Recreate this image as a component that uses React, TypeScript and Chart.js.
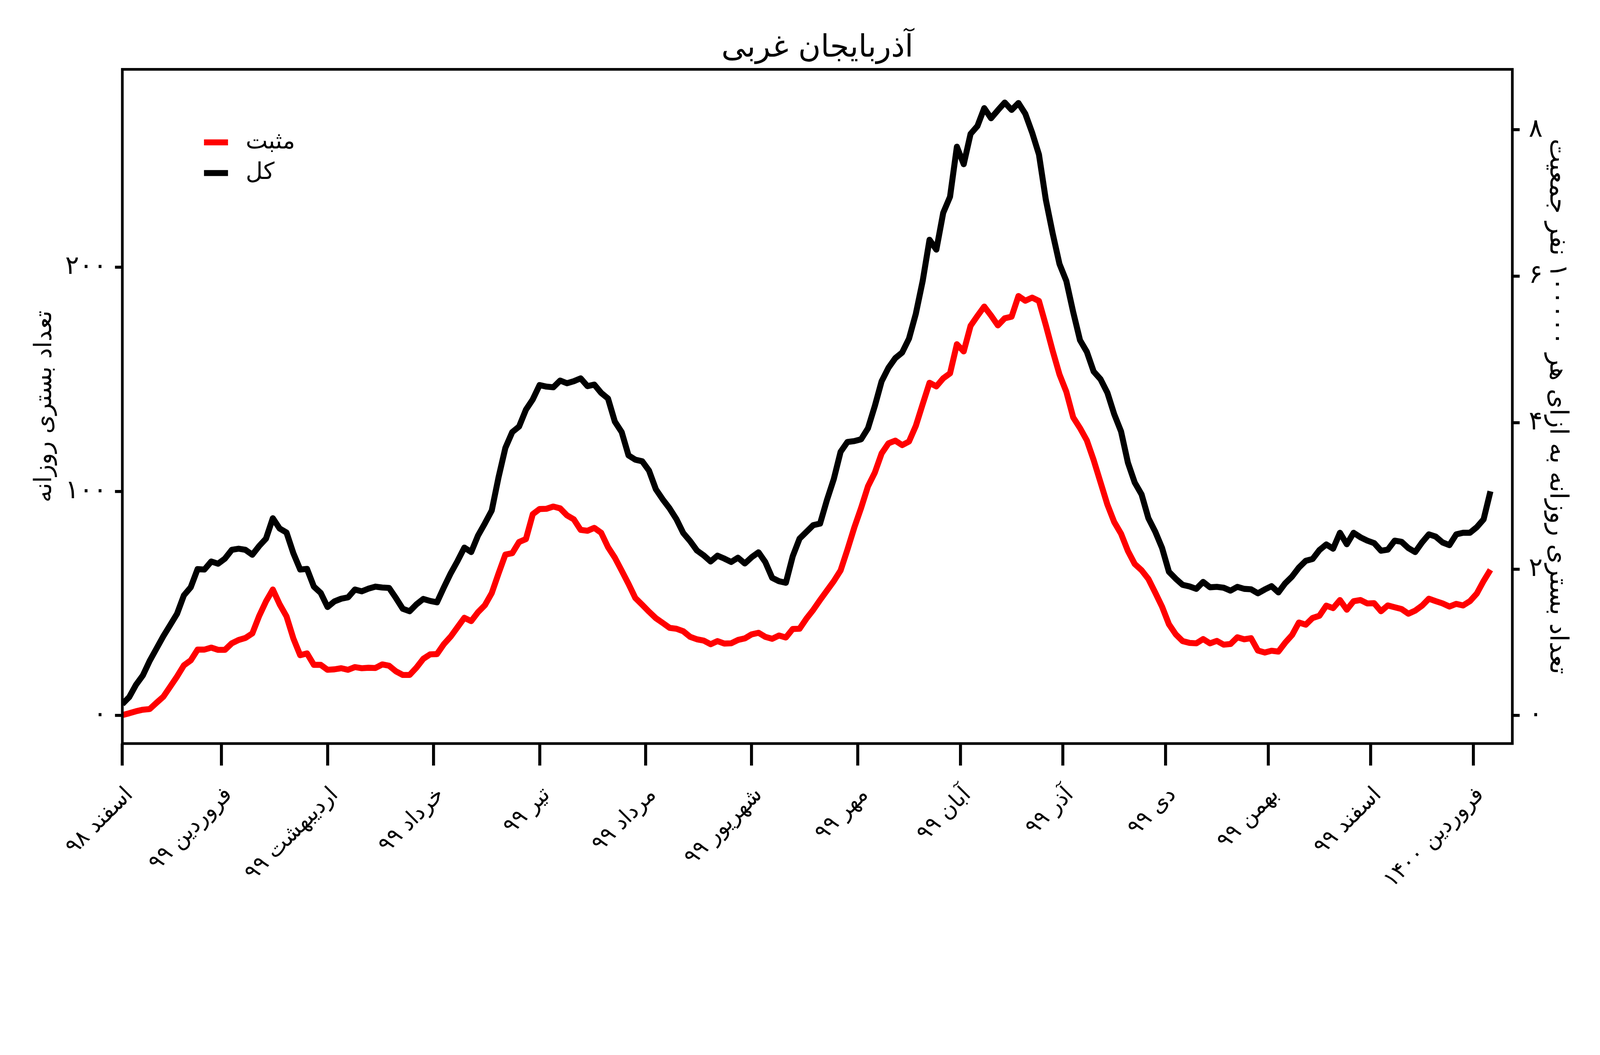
import React, { useEffect, useRef } from 'react';
import { Chart, registerables } from 'chart.js';

Chart.register(...registerables);

const FONT = '"DejaVu Sans"';
const TITLE = 'آذربایجان غربی';
const Y_TITLE = 'تعداد بستری روزانه';
const Y2_TITLE = 'تعداد بستری روزانه به ازای هر ۱۰۰۰۰۰ نفر جمعیت';
const POSITIVE_LABEL = 'مثبت';
const TOTAL_LABEL = 'کل';
const POPULATION = 3265219;

// days since 1 Esfand 1398, one value every DAY_STEP days
const DAY_STEP = 2;
const X_MIN = 0;
const X_MAX = 406.4;
const Y_MIN = -12.5;
const Y_MAX = 288.2;

const X_TICK_DAYS = [0, 29, 60, 91, 122, 153, 184, 215, 245, 275, 305, 335, 365, 395];
const X_TICK_LABELS = [
  'اسفند ۹۸', 'فروردین ۹۹', 'اردیبهشت ۹۹', 'خرداد ۹۹', 'تیر ۹۹', 'مرداد ۹۹', 'شهریور ۹۹',
  'مهر ۹۹', 'آبان ۹۹', 'آذر ۹۹', 'دی ۹۹', 'بهمن ۹۹', 'اسفند ۹۹', 'فروردین ۱۴۰۰',
];
const Y_TICKS = [0, 100, 200];
const Y2_TICKS = [0, 2, 4, 6, 8];

const TOTAL = [
  5.1, 8.2, 13.7, 17.9, 24.4, 29.9, 35.4, 40.4, 45.4, 53.6,
  57.2, 65.3, 65.1, 68.7, 67.7, 70, 73.9, 74.4, 73.9, 71.7,
  75.6, 78.9, 88, 83.4, 81.6, 72.4, 65.1, 65.4, 57.5, 54.7,
  48.4, 50.9, 52.1, 52.7, 56.2, 55.4, 56.6, 57.5, 57.1, 56.9,
  52.4, 47.6, 46.5, 49.6, 52, 51.1, 50.5, 57.1, 63.4, 68.9,
  74.9, 72.9, 80.3, 85.7, 91.4, 106.3, 119.4, 126.4, 128.9, 136.4,
  141, 147.4, 146.7, 146.4, 149.4, 148.2, 149.1, 150.4, 146.9, 147.6,
  143.9, 141.4, 131.1, 126.4, 116, 114.1, 113.4, 109.2, 100.9, 96.4,
  92.4, 87.6, 81.4, 77.8, 73.6, 71.4, 68.7, 71.3, 70, 68.5,
  70.4, 67.8, 70.6, 72.8, 68.4, 61.4, 59.9, 59.2, 71, 78.9,
  81.9, 84.9, 85.6, 96.1, 105.4, 117.6, 122, 122.4, 123.2, 128.1,
  138, 149.1, 155.1, 159.4, 161.9, 168.1, 179.2, 193.8, 212.2, 207.8,
  224.2, 231.4, 253.7, 245.9, 259.4, 262.9, 270.9, 266.4, 270, 273.4,
  270.1, 273.2, 268.4, 260, 250.2, 230.1, 215.1, 201.4, 193.8, 180,
  167.4, 162.2, 153.4, 150, 144, 134.4, 126.7, 112.8, 103.9, 98.6,
  88, 82, 74.7, 64.1, 61, 58.3, 57.6, 56.5, 59.6, 57.2,
  57.4, 57, 55.7, 57.4, 56.5, 56.3, 54.5, 56.2, 57.7, 54.9,
  59, 62, 66, 69, 69.8, 73.8, 76.3, 74.4, 81.5, 76.4,
  81.5, 79.5, 78, 76.9, 73.5, 74, 78, 77.5, 74.7, 72.9,
  77.2, 80.8, 79.8, 77.2, 76, 80.8, 81.5, 81.5, 84, 87.5,
  100,
];

const POSITIVE = [
  0.2, 1.0, 1.9, 2.6, 2.9, 5.7, 8.4, 12.9, 17.4, 22.4,
  24.6, 29.4, 29.4, 30.3, 29.3, 29.3, 32.2, 33.7, 34.6, 36.6,
  44.4, 50.9, 56.2, 49.6, 44.2, 34.4, 26.9, 27.7, 22.6, 22.6,
  20.4, 20.6, 21.1, 20.4, 21.6, 21.1, 21.3, 21.2, 22.8, 22.2,
  19.7, 18.1, 18.1, 21.4, 25.3, 27.3, 27.4, 31.8, 35.2, 39.4,
  43.6, 42.1, 46.1, 49.2, 54.6, 63.4, 71.8, 72.4, 77.4, 78.7,
  89.8, 92.1, 92.2, 93.2, 92.4, 89.3, 87.5, 82.8, 82.4, 83.7,
  81.5, 75.1, 70.4, 64.6, 58.7, 52.4, 49.4, 46.3, 43.4, 41.3,
  39.1, 38.7, 37.6, 35.1, 34, 33.4, 31.8, 33.2, 32.1, 32.2,
  33.7, 34.4, 36.2, 36.9, 35.1, 34.2, 35.7, 34.8, 38.6, 38.7,
  43.2, 47.1, 51.5, 55.7, 59.9, 64.7, 74, 83.8, 92.6, 102.2,
  108.3, 116.9, 121.4, 122.6, 120.6, 122.2, 129.2, 138.9, 148.4, 146.8,
  150.4, 152.6, 165.6, 162.4, 173.8, 178.2, 182.4, 178.4, 174, 177.2,
  177.9, 187.1, 185, 186.4, 184.9, 174.1, 162.7, 152.1, 144.4, 133,
  128.2, 122.7, 113.9, 104, 94.1, 86.3, 81.1, 73.4, 67.6, 64.8,
  60.9, 54.8, 48.5, 40.7, 36.2, 33.2, 32.4, 32.2, 34.1, 32.2,
  33.3, 31.6, 31.9, 34.9, 34, 34.5, 29, 28.1, 28.9, 28.5,
  32.5, 35.9, 41.5, 40.5, 43.5, 44.5, 49, 47.9, 51.5, 47.2,
  51, 51.5, 50, 50.1, 46.5, 49.1, 48.3, 47.5, 45.4, 46.8,
  49, 52.1, 51, 50, 48.6, 49.8, 49.1, 51, 54.4, 60,
  65,
];

const toFa = (v: number | string) => String(v).replace(/\d/g, (d) => '۰۱۲۳۴۵۶۷۸۹'[Number(d)]);

// design size of the figure; everything is scaled uniformly to fit the viewport
const DESIGN_W = 4800;
const DESIGN_H = 2700;

function makeDecor(s: number) {
  return {
    id: 'decor',
    afterDraw(chart: any) {
      const { ctx, chartArea: a } = chart;
      ctx.save();
      ctx.strokeStyle = '#000';
      ctx.lineWidth = 8 * s;
      ctx.strokeRect(a.left, a.top, a.right - a.left, a.bottom - a.top);

      ctx.fillStyle = '#000';
      ctx.font = `${92 * s}px ${FONT}`;
      ctx.textAlign = 'center';
      ctx.textBaseline = 'alphabetic';
      ctx.fillText(TITLE, (a.left + a.right) / 2, a.top - 38 * s);

      ctx.font = `${70 * s}px ${FONT}`;
      ctx.textAlign = 'left';
      ctx.textBaseline = 'middle';
      chart.data.datasets.forEach((ds: any, i: number) => {
        const y = a.top + (219 + i * 92) * s;
        ctx.strokeStyle = ds.borderColor;
        ctx.lineWidth = 18 * s;
        ctx.beginPath();
        ctx.moveTo(a.left + 245 * s, y);
        ctx.lineTo(a.left + 317 * s, y);
        ctx.stroke();
        ctx.fillStyle = '#000';
        ctx.fillText(ds.label, a.left + 370 * s, y);
      });
      ctx.restore();
    },
  };
}

export default function App() {
  const ref = useRef<HTMLCanvasElement>(null);
  const s = Math.min(window.innerWidth / DESIGN_W, window.innerHeight / DESIGN_H);
  const W = Math.round(DESIGN_W * s);
  const H = Math.round(DESIGN_H * s);

  useEffect(() => {
    document.body.style.margin = '0';
    const canvas = ref.current;
    if (!canvas) return;
    Chart.defaults.font.family = FONT;
    const factor = 100000 / POPULATION;
    const tickGrid = (len: number) => ({
      drawOnChartArea: false,
      drawTicks: true,
      tickLength: len * s,
      tickWidth: 9 * s,
      lineWidth: 9 * s,
      tickColor: '#000',
      color: '#000',
    });
    const chart = new Chart(canvas, {
      type: 'line',
      data: {
        datasets: [
          {
            label: POSITIVE_LABEL,
            data: POSITIVE.map((v, i) => ({ x: i * DAY_STEP, y: v })),
            borderColor: '#ff0000',
            borderWidth: 18 * s,
            pointRadius: 0,
            borderJoinStyle: 'round',
            tension: 0,
            yAxisID: 'y',
          },
          {
            label: TOTAL_LABEL,
            data: TOTAL.map((v, i) => ({ x: i * DAY_STEP, y: v })),
            borderColor: '#000000',
            borderWidth: 18 * s,
            pointRadius: 0,
            borderJoinStyle: 'round',
            tension: 0,
            yAxisID: 'y',
          },
        ],
      },
      options: {
        animation: false,
        responsive: false,
        layout: { padding: { top: 208 * s, left: 0, right: 0, bottom: 0 } },
        plugins: {
          legend: { display: false },
          title: { display: false },
          tooltip: { enabled: false },
        },
        scales: {
          x: {
            type: 'linear',
            position: 'bottom',
            min: X_MIN,
            max: X_MAX,
            afterBuildTicks: (sc: any) => {
              sc.ticks = X_TICK_DAYS.map((v) => ({ value: v }));
            },
            afterFit: (sc: any) => {
              sc.height = 470 * s;
              sc.paddingLeft = 0;
              sc.paddingRight = 0;
            },
            border: { display: false },
            grid: tickGrid(66),
            ticks: {
              autoSkip: false,
              maxRotation: 45,
              minRotation: 45,
              padding: 50 * s,
              labelOffset: 22 * s,
              color: '#000',
              font: { size: 66 * s, family: FONT },
              callback: (_v: any, i: number) => X_TICK_LABELS[i] ?? '',
            },
          },
          y: {
            type: 'linear',
            position: 'left',
            min: Y_MIN,
            max: Y_MAX,
            afterBuildTicks: (sc: any) => {
              sc.ticks = Y_TICKS.map((v) => ({ value: v }));
            },
            afterFit: (sc: any) => {
              sc.width = 367 * s;
              sc.paddingTop = 0;
              sc.paddingBottom = 0;
            },
            border: { display: false },
            grid: tickGrid(22),
            ticks: {
              padding: 24 * s,
              color: '#000',
              font: { size: 78 * s, family: FONT },
              callback: (v: any) => toFa(v),
            },
            title: {
              display: true,
              text: Y_TITLE,
              color: '#000',
              font: { size: 72 * s, family: FONT },
              padding: { top: 92 * s, bottom: 0 },
            },
          },
          y2: {
            type: 'linear',
            position: 'right',
            min: Y_MIN * factor,
            max: Y_MAX * factor,
            afterBuildTicks: (sc: any) => {
              sc.ticks = Y2_TICKS.map((v) => ({ value: v }));
            },
            afterFit: (sc: any) => {
              sc.width = 263 * s;
              sc.paddingTop = 0;
              sc.paddingBottom = 0;
            },
            border: { display: false },
            grid: tickGrid(22),
            ticks: {
              padding: 27 * s,
              color: '#000',
              font: { size: 78 * s, family: FONT },
              callback: (v: any) => toFa(v),
            },
            title: {
              display: true,
              text: Y2_TITLE,
              color: '#000',
              font: { size: 76 * s, family: FONT },
              padding: { top: 84 * s, bottom: 0 },
            },
          },
        },
      },
      plugins: [makeDecor(s)],
    } as any);
    return () => chart.destroy();
  }, [s]);

  return (
    <div style={{ position: 'fixed', left: 0, top: 0, width: W, height: H, background: '#fff' }}>
      <canvas ref={ref} width={W} height={H} style={{ width: W, height: H, display: 'block' }} />
    </div>
  );
}
